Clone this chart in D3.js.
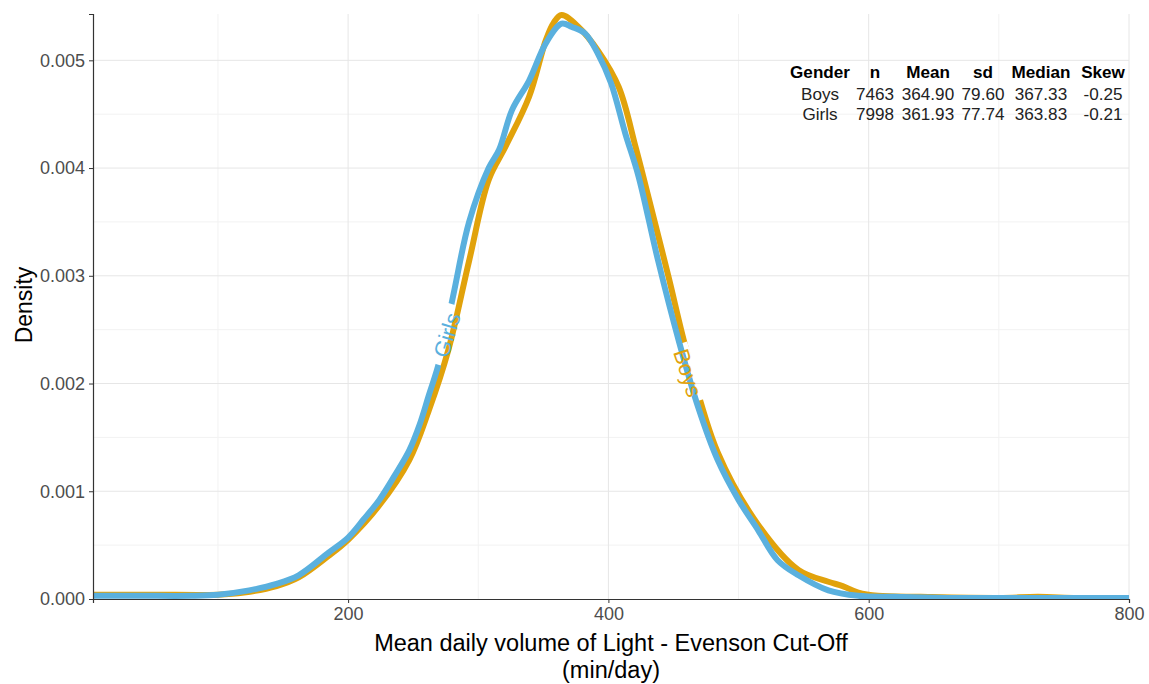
<!DOCTYPE html>
<html>
    <head>
        <meta charset="utf-8"/>
        <script src="https://cdnjs.cloudflare.com/ajax/libs/d3/7.8.5/d3.min.js"></script>
        <style>
            body { margin: 0; background: #fff; }
            text { font-family: "Liberation Sans", Arial, sans-serif; }
        </style>
    </head>
    <body>
        <script>
            // density curves
            const boysX = [4, 50, 100, 120, 145, 162, 185, 200, 224, 247, 262, 277, 293, 308, 321, 339, 352, 358, 364, 377, 392, 408, 421, 431, 446, 461, 484, 515, 546, 569, 580, 592, 607, 640, 700, 730, 760, 800]
            const boysDensity = [0.00004, 0.00004, 0.00004, 0.00006, 0.00012, 0.00020, 0.00040, 0.00055, 0.00087, 0.00129, 0.00175, 0.00231, 0.00314, 0.00389, 0.00420, 0.00466, 0.00519, 0.00535, 0.00542, 0.00531, 0.00509, 0.00475, 0.00419, 0.00372, 0.00300, 0.00226, 0.00136, 0.00069, 0.00027, 0.00016, 0.00012, 0.00006, 0.00003, 0.00002, 0.00001, 0.00002, 0.00001, 0.00001]
            const girlsX = [4, 40, 80, 100, 124, 145, 162, 185, 200, 212, 224, 236, 247, 255, 262, 270, 281, 293, 308, 316, 326, 339, 352, 364, 372, 382, 392, 402, 413, 423, 438, 454, 469, 484, 500, 515, 530, 546, 569, 592, 620, 660, 720, 800]
            const girlsDensity = [0.00003, 0.00003, 0.00003, 0.00004, 0.00008, 0.00014, 0.00022, 0.00043, 0.00057, 0.00074, 0.00092, 0.00115, 0.00138, 0.00162, 0.00189, 0.00220, 0.00283, 0.00350, 0.00400, 0.00417, 0.00454, 0.00481, 0.00516, 0.00534, 0.00531, 0.00525, 0.00506, 0.00479, 0.00432, 0.00393, 0.00315, 0.00240, 0.00178, 0.00129, 0.00092, 0.00064, 0.00036, 0.00022, 0.00008, 0.00003, 0.00002, 0.00001, 0.00001, 0.00001]

            const xTicks = [200, 400, 600, 800]
            const yTicks = [0, 0.001, 0.002, 0.003, 0.004, 0.005]

            const tableHeader = ["Gender", "n", "Mean", "sd", "Median", "Skew"]
            const tableRows = [
                ["Boys", "7463", "364.90", "79.60", "367.33", "-0.25"],
                ["Girls", "7998", "361.93", "77.74", "363.83", "-0.21"]
            ]

            const boysColor = "#E1A20B", girlsColor = "#5AB0DE"

            const width = 1149, height = 684
            const margin = {top: 14, right: 20, bottom: 85, left: 93}

            const svg = d3.select("body").append("svg")
                .attr("width", width).attr("height", height)

            const x = d3.scaleLinear().domain([4, 800]).range([margin.left, width - margin.right])
            const y = d3.scaleLinear().domain([0, 0.00543]).range([height - margin.bottom, margin.top])

            svg.append("clipPath").attr("id", "plotclip")
                .append("rect")
                .attr("x", margin.left).attr("y", margin.top - 3)
                .attr("width", width - margin.left - margin.right + 20)
                .attr("height", height - margin.top - margin.bottom + 3)

            // grid
            const grid = svg.append("g")
            const xMinor = [100, 300, 500, 700]
            const yMinor = [0.0005, 0.0015, 0.0025, 0.0035, 0.0045]
            grid.selectAll(".xminor").data(xMinor).join("line")
                .attr("x1", d => x(d)).attr("x2", d => x(d))
                .attr("y1", y.range()[0]).attr("y2", y.range()[1])
                .attr("stroke", "#f2f2f2")
            grid.selectAll(".yminor").data(yMinor).join("line")
                .attr("x1", x.range()[0]).attr("x2", x.range()[1])
                .attr("y1", d => y(d)).attr("y2", d => y(d))
                .attr("stroke", "#f2f2f2")
            grid.selectAll(".xmajor").data(xTicks).join("line")
                .attr("x1", d => x(d)).attr("x2", d => x(d))
                .attr("y1", y.range()[0]).attr("y2", y.range()[1])
                .attr("stroke", "#e6e6e6")
            grid.selectAll(".ymajor").data(yTicks.slice(1)).join("line")
                .attr("x1", x.range()[0]).attr("x2", x.range()[1])
                .attr("y1", d => y(d)).attr("y2", d => y(d))
                .attr("stroke", "#e6e6e6")

            // label positions and masks for the line gaps
            const girlsLabel = {x: 276, d: 0.00245, angle: -73}
            const boysLabel = {x: 461, d: 0.0021, angle: 72}

            const defs = svg.append("defs")
            function addMask(id, lab, w) {
                const m = defs.append("mask").attr("id", id)
                m.append("rect").attr("x", 0).attr("y", 0).attr("width", width).attr("height", height).attr("fill", "#fff")
                m.append("rect")
                    .attr("x", -w / 2).attr("y", -9).attr("width", w).attr("height", 18)
                    .attr("fill", "#000")
                    .attr("transform", `translate(${x(lab.x)},${y(lab.d)}) rotate(${lab.angle})`)
            }
            addMask("girlsmask", girlsLabel, 62)
            addMask("boysmask", boysLabel, 60)

            const line = d3.line()
                .x(d => x(d[0])).y(d => y(d[1]))
                .curve(d3.curveCatmullRom)

            const plot = svg.append("g").attr("clip-path", "url(#plotclip)")
            plot.append("path")
                .datum(d3.zip(boysX, boysDensity))
                .attr("fill", "none")
                .attr("stroke", boysColor)
                .attr("stroke-width", 6)
                .attr("stroke-linejoin", "round")
                .attr("mask", "url(#boysmask)")
                .attr("d", line)
            plot.append("path")
                .datum(d3.zip(girlsX, girlsDensity))
                .attr("fill", "none")
                .attr("stroke", girlsColor)
                .attr("stroke-width", 6)
                .attr("stroke-linejoin", "round")
                .attr("mask", "url(#girlsmask)")
                .attr("d", line)

            function drawLabel(lab, txt, col) {
                svg.append("text")
                    .attr("transform", `translate(${x(lab.x)},${y(lab.d)}) rotate(${lab.angle})`)
                    .attr("text-anchor", "middle")
                    .attr("dy", "0.35em")
                    .attr("font-size", 22)
                    .attr("fill", col)
                    .text(txt)
            }
            drawLabel(girlsLabel, "Girls", girlsColor)
            drawLabel(boysLabel, "Boys", boysColor)

            // axes
            const xAxis = svg.append("g")
                .attr("transform", `translate(0,${height - margin.bottom})`)
                .call(d3.axisBottom(x).tickValues(xTicks).tickSize(4).tickPadding(4))
            const yAxis = svg.append("g")
                .attr("transform", `translate(${margin.left},0)`)
                .call(d3.axisLeft(y).tickValues(yTicks).tickFormat(d3.format(".3f")).tickSize(4).tickPadding(4))
            for (const a of [xAxis, yAxis]) {
                a.select(".domain").attr("stroke", "#333").attr("stroke-width", 1.2)
                a.selectAll(".tick line").attr("stroke", "#333")
                a.selectAll(".tick text")
                    .attr("fill", "#4d4d4d")
                    .attr("font-size", 18)
                    .attr("font-family", "'Liberation Sans', Arial, sans-serif")
            }

            // axis titles
            svg.append("text")
                .attr("x", 611).attr("y", 651)
                .attr("text-anchor", "middle").attr("font-size", 23.5).attr("fill", "#000")
                .text("Mean daily volume of Light - Evenson Cut-Off")
            svg.append("text")
                .attr("x", 611).attr("y", 678)
                .attr("text-anchor", "middle").attr("font-size", 23.5).attr("fill", "#000")
                .text("(min/day)")
            svg.append("text")
                .attr("transform", `translate(32,305) rotate(-90)`)
                .attr("text-anchor", "middle").attr("font-size", 23).attr("fill", "#000")
                .text("Density")

            // summary table (text looks a bit stretched sideways in the original)
            const colX = [820, 875, 928, 983, 1041, 1103]
            const rowY = [78, 100, 120]
            const stretch = 1.07
            const table = svg.append("g").attr("font-size", 16).attr("text-anchor", "middle")
            function cell(txt, cx, cy) {
                return table.append("text")
                    .attr("transform", `translate(${cx},${cy}) scale(${stretch},1)`)
                    .text(txt)
            }
            tableHeader.forEach((h, i) => cell(h, colX[i], rowY[0]).attr("font-weight", "bold").attr("fill", "#000"))
            tableRows.forEach((row, r) => {
                row.forEach((v, i) => cell(v, colX[i], rowY[r + 1]).attr("fill", "#222"))
            })
        </script>
    </body>
</html>
